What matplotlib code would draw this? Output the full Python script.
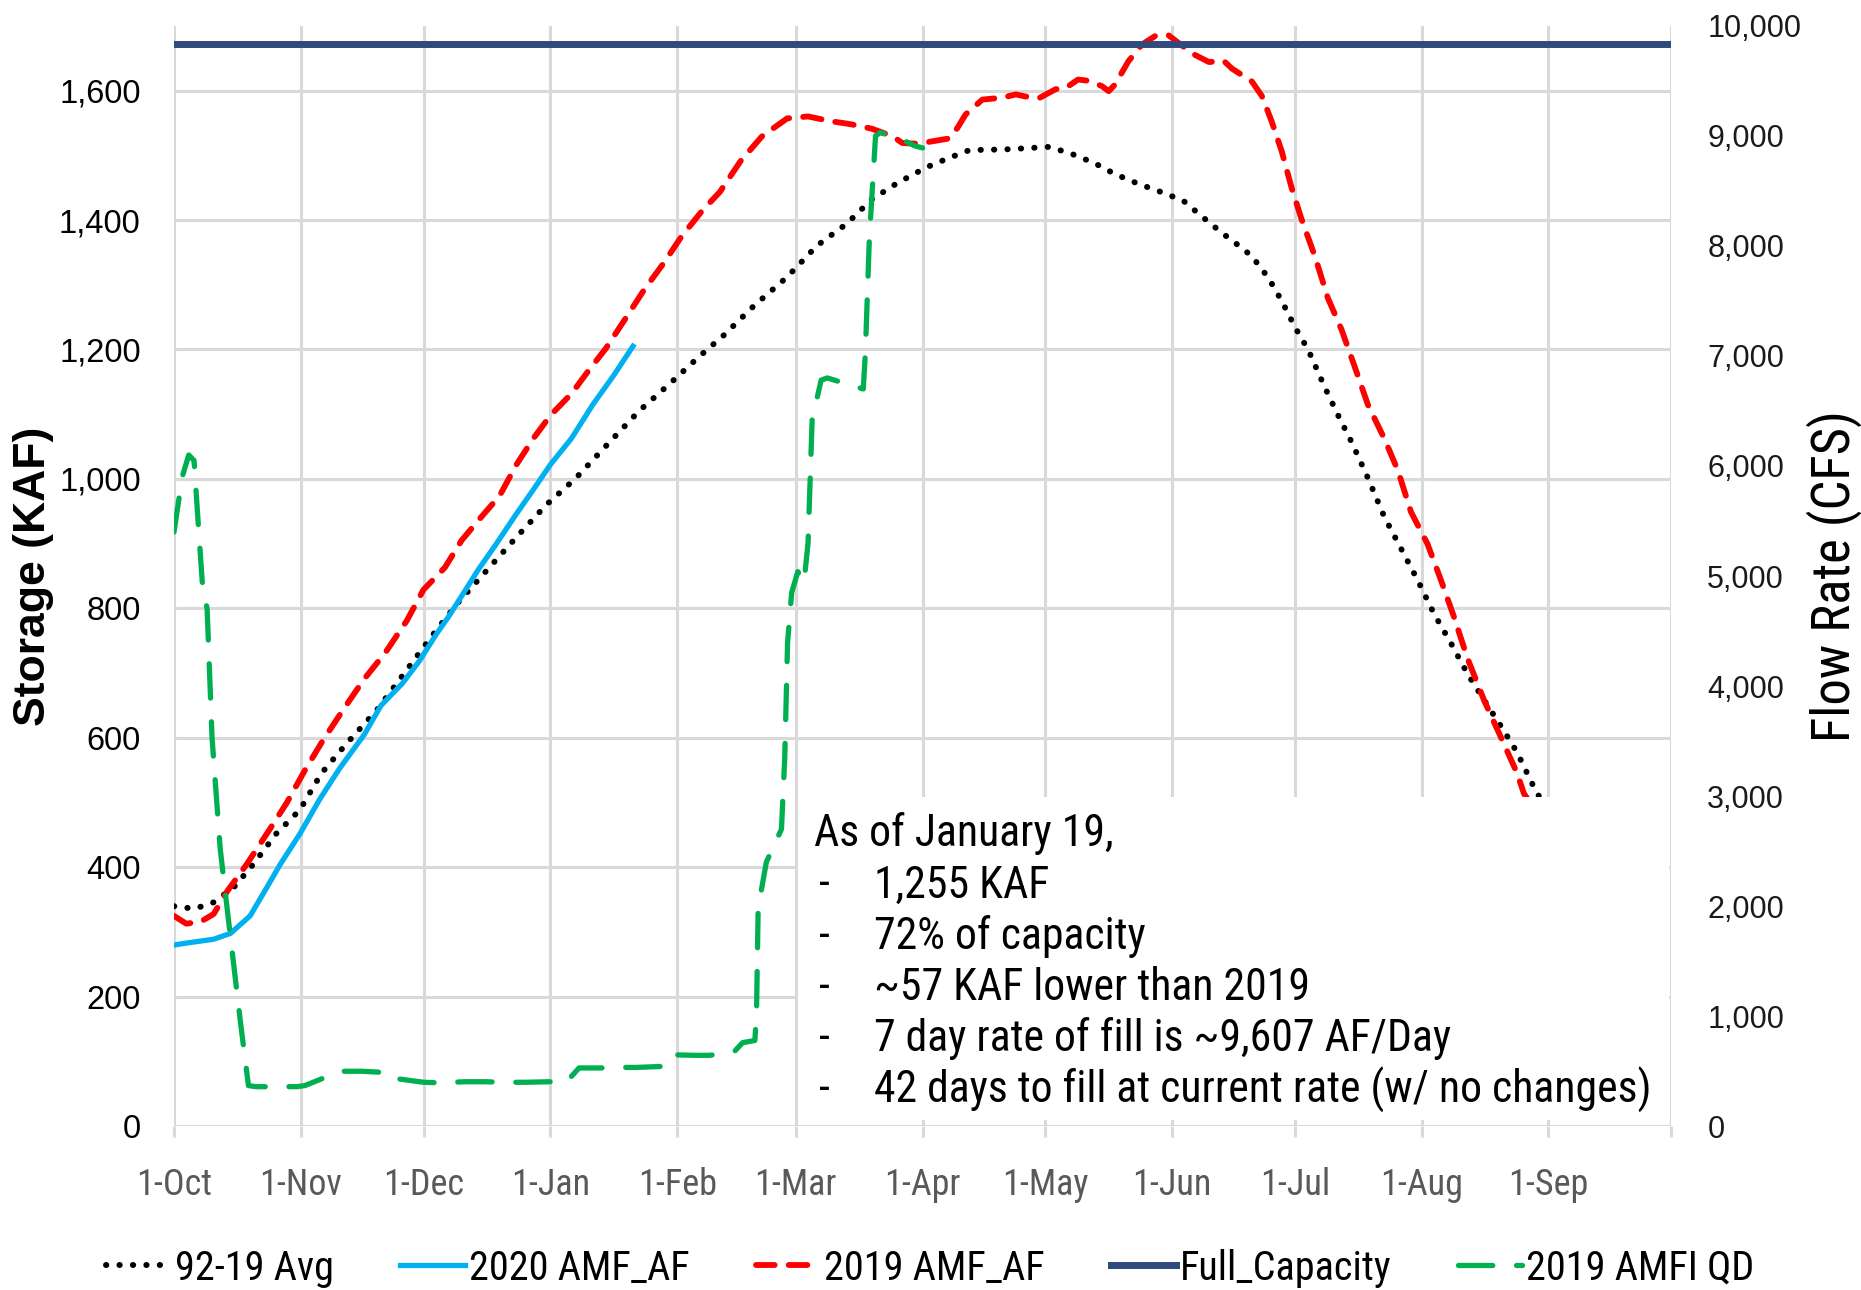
import matplotlib
matplotlib.use("Agg")
import matplotlib.pyplot as plt
import numpy as np
import pandas as pd
from matplotlib.patches import Rectangle

# days since 1-Oct (water year)
avg_day = [0, 5, 9.7, 14.6, 19.4, 25, 30.8, 36, 42, 49.6, 56.9, 63, 69.3, 75.5, 83.7, 91, 98.2,
           106.5, 113.7, 121, 128.2, 134.4, 141.7, 149.9, 157.1, 164.4, 170.6, 176.8, 183.8,
           189.5, 194.5, 203, 211.4, 214, 219.5, 225, 230, 235.7, 241.4, 246.7, 251, 256, 261,
           263.5, 267.5, 270.8, 274, 277.3, 281.3, 284.6, 287.8, 291.9, 295.9, 300, 304, 308,
           312.1, 316.2, 320.2, 324.3, 328.3, 333.2, 345, 362]
avg_kaf = [340, 336, 346, 369, 405, 452, 489, 545, 590, 643, 705, 757, 808, 852, 910, 960, 1001,
           1057, 1105, 1146, 1188, 1222, 1267, 1312, 1360, 1394, 1432, 1457, 1481,
           1496, 1508, 1509, 1512, 1513, 1502, 1488, 1471, 1456, 1443, 1430, 1407, 1381, 1357,
           1344, 1311, 1275, 1235, 1199, 1142, 1098, 1058, 1001, 941, 892, 844, 792,
           747, 699, 659, 619, 578, 514, 420, 340]

wy2020_day = [0, 3, 9.7, 13.8, 18.6, 22.7, 26, 30.8, 35.6, 40.5, 46.5, 50.6, 55.8, 60, 64.1,
              67.2, 71.3, 74.4, 78.6, 83.7, 87.9, 92, 97.2, 102.4, 107.5, 112.2]
wy2020_kaf = [280, 283, 289, 298, 325, 369, 405, 452, 505, 553, 605, 650, 684, 719, 760,
              788, 829, 860, 898, 946, 984, 1022, 1063, 1115, 1160, 1205]

wy2019_day = [0, 3, 6.5, 9.7, 13, 17.8, 22.7, 27.5, 32, 36.2, 41.3, 46.5, 51.7, 56.9, 61, 66.2,
              70.3, 74.4, 79.6, 83.7, 87.9, 92, 97.2, 101.3, 105.5, 110.6, 114.8, 120, 124,
              129.2, 133.4, 138.5, 143.7, 149.9, 155, 160.2, 165.4, 170.6, 175.8, 178, 181, 183,
              189.5, 191.6, 193.5, 197.6, 202.5, 205.8, 208, 211.4, 215.5, 218, 221, 223.6,
              226.8, 228.5, 230, 233.3, 236.6, 239.8, 243, 246.3, 249.6, 253, 256.6, 258.6,
              263.5, 265.9, 268.3, 270.8, 273.2, 275.6, 278.9, 282.1, 285.4, 288.6, 291.9,
              295.9, 299.2, 302.4, 306.4, 309.7, 312.9, 316.2, 320.2, 324.3, 328.3, 330, 340, 362]
wy2019_kaf = [325, 313, 316, 328, 363, 405, 452, 499, 550, 594, 643, 691, 732, 781, 829, 863,
              905, 936, 974, 1022, 1063, 1098, 1132, 1167, 1201, 1250, 1291, 1336, 1374,
              1415, 1443, 1491, 1529, 1557, 1560, 1553, 1548, 1541, 1529, 1519, 1518, 1519,
              1526, 1543, 1563, 1586, 1589, 1594, 1591, 1588, 1602, 1604, 1617, 1615,
              1607, 1599, 1609, 1645, 1671, 1684, 1686, 1670, 1655, 1644, 1646, 1634,
              1614, 1592, 1553, 1506, 1450, 1402, 1344, 1279, 1231, 1174, 1114,
              1062, 1013, 949, 900, 844, 787, 723, 659, 602, 546, 514, 420, 300]

capacity_day = [0, 366]
capacity_kaf = [1672, 1672]

qd_day = [0, 2, 3.6, 4.9, 5.7, 6.9, 8.1, 9.3, 11.3, 13.8, 16.2, 18.2, 20, 27, 30, 32, 36, 41,
          46, 51, 53, 55, 61, 65, 71, 76, 81, 86, 92, 96, 99, 104, 109, 113, 120, 122, 127,
          131, 137, 139, 142, 142.4, 142.8, 144.8, 148.5, 149.3, 150, 151, 152.5, 154, 155,
          156, 158.2, 159.7, 165, 168.5, 169, 170, 171.5, 172.7, 177.8, 181, 183]
qd_cfs = [5400, 5900, 6100, 6050, 5600, 4950, 4700, 3530, 2520, 1720, 960, 370, 360, 360, 360,
          370, 430, 500, 500, 490, 430, 430, 400, 395, 405, 405, 400, 400, 405, 405, 530, 530,
          535, 535, 545, 650, 645, 645, 680, 760, 780, 1030, 1980, 2400, 2700, 3350, 4400,
          4850, 5040, 4940, 5300, 6420, 6780, 6800, 6740, 6700, 7020, 8080, 9000, 9030, 8970,
          8910, 8890]

note_title = "As of January 19,"
note_items = ["1,255 KAF", "72% of capacity", "~57 KAF lower than 2019",
              "7 day rate of fill is ~9,607 AF/Day",
              "42 days to fill at current rate (w/ no changes)"]

months = pd.date_range("2019-10-01", "2020-09-01", freq="MS")
month_pos = [(m - months[0]).days for m in months] + [366]
month_lab = [f"{m.day}-{m.strftime('%b')}" for m in months] + [""]

NARROW = ["Roboto Condensed", "Lato", "DejaVu Sans"]

fig = plt.figure(figsize=(18.61, 12.90), dpi=100)
ax = fig.add_axes([0.0935, 0.1269, 0.8045, 0.8531])
ax2 = ax.twinx()

ax.plot(avg_day, avg_kaf, color="black", lw=4.3, linestyle=(0, (0.05, 2.2)),
        dash_capstyle="round", label="92-19 Avg", zorder=3)
ax.plot(wy2020_day, wy2020_kaf, color="#00B0F0", lw=3.8, label="2020 AMF_AF", zorder=4)
ax.plot(wy2019_day, wy2019_kaf, color="#FF0000", lw=4.2, linestyle=(0, (3.2, 2.4)),
        dash_capstyle="round", label="2019 AMF_AF", zorder=3)
ax.plot(capacity_day, capacity_kaf, color="#2F4B7C", lw=5, label="Full_Capacity", zorder=3)
ax2.plot(qd_day, qd_cfs, color="#00B050", lw=3.8, linestyle=(0, (6.5, 4.5)),
         dash_capstyle="round", label="2019 AMFI QD", zorder=3)

ax.set_xlim(0, 366)
ax.set_ylim(0, 1700)
ax2.set_ylim(0, 10000)

ax.set_xticks(month_pos)
ax.set_xticklabels(month_lab, family=NARROW, fontsize=26, color="#595959")
ax.set_yticks(range(0, 1601, 200))
ax.set_yticklabels([f"{v:,}" for v in range(0, 1601, 200)], family="Liberation Sans",
                   fontsize=23.5, color="black")
ax2.set_yticks(range(0, 10001, 1000))
ax2.set_yticklabels([f"{v:,}" for v in range(0, 10001, 1000)], family="Liberation Sans",
                    fontsize=22, color="#1a1a1a")

ax.grid(True, color="#D9D9D9", lw=2.2)
ax.set_axisbelow(True)
ax.tick_params(axis="x", length=8, width=2.2, color="#D9D9D9", pad=21)
ax.tick_params(axis="y", length=0, pad=24)
ax2.tick_params(axis="y", length=0, pad=26)
for a in (ax, ax2):
    for s in a.spines.values():
        s.set_visible(False)

ax.set_ylabel("Storage (KAF)", family="Liberation Sans", fontweight="bold", fontsize=32,
              va="center")
ax.yaxis.set_label_coords(-0.094, 0.5)
ax2.set_ylabel("Flow Rate (CFS)", family=NARROW, fontsize=38, va="center")
ax2.yaxis.set_label_coords(1.109, 0.5)

# white note box over the lower right of the plot
ax2.add_patch(Rectangle((152.6, 9), 212.9, 500, transform=ax.transData,
                        facecolor="white", edgecolor="none", zorder=10))
fig.text(0.4374, 0.3535, note_title, family=NARROW, fontsize=31.5, va="center", zorder=11)
ys = [0.3136, 0.2740, 0.2344, 0.1949, 0.1553]
for y, item in zip(ys, note_items):
    fig.text(0.440, y, "-", family=NARROW, fontsize=31.5, va="center", zorder=11)
    fig.text(0.4696, y, item, family=NARROW, fontsize=31.5, va="center", zorder=11)

h1, l1 = ax.get_legend_handles_labels()
h2, l2 = ax2.get_legend_handles_labels()
fig.legend(h1 + h2, l1 + l2, loc="center", bbox_to_anchor=(0.5, 0.017), ncol=5,
           frameon=False, prop={"family": NARROW, "size": 29}, handlelength=1.6,
           handletextpad=0.1, columnspacing=1.65)

fig.savefig("out.png", dpi=100)
